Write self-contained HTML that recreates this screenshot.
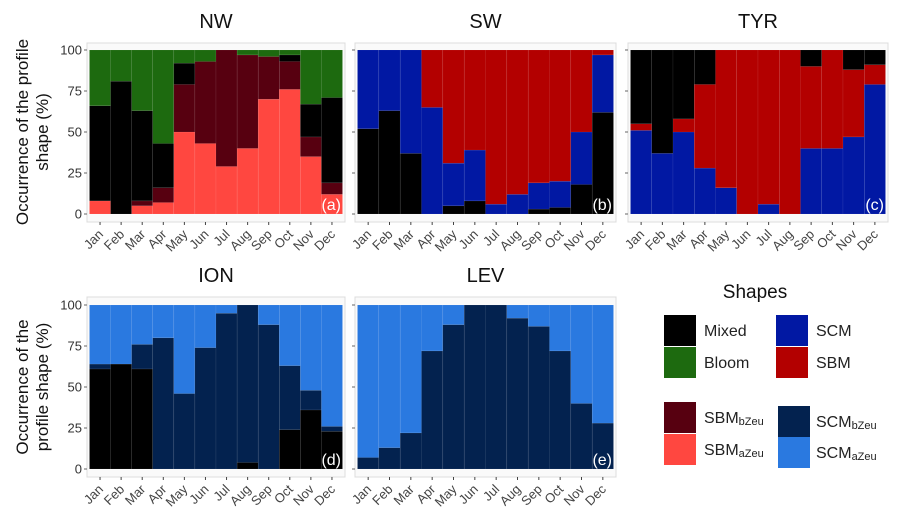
<!DOCTYPE html>
<html><head><meta charset="utf-8"><style>
body{margin:0;background:#fff;}
svg{display:block;font-family:"Liberation Sans",sans-serif;}
</style></head><body>
<svg id="chart" width="902" height="520" viewBox="0 0 902 520"></svg>
<script>
const months=["Jan","Feb","Mar","Apr","May","Jun","Jul","Aug","Sep","Oct","Nov","Dec"];
const yTicks=[0,25,50,75,100];
// NW (bottom to top)
const nwSBMaZeu=[8,0,5,7,50,43,29,40,70,76,35,12];
const nwSBMbZeu=[0,0,3,9,29,50,71,57,26,17,12,7];
const nwMixed=[58,81,55,27,13,0,0,0,0,4,20,52];
const nwBloom=[34,19,37,57,8,7,0,3,4,3,33,29];
// SW
const swMixed=[52,63,37,0,5,8,0,0,3,4,18,62];
const swSCM=[48,37,63,65,26,31,6,12,16,16,32,35];
const swSBM=[0,0,0,35,69,61,94,88,81,80,50,3];
// TYR
const tyrSCM=[51,37,50,28,16,0,6,0,40,40,47,79];
const tyrSBM=[4,0,8,51,84,100,94,100,50,60,41,12];
const tyrMixed=[45,63,42,21,0,0,0,0,10,0,12,9];
// ION
const ionMixed=[61,64,61,0,0,0,0,4,0,24,36,23];
const ionSCMbZeu=[3,0,15,80,46,74,95,96,88,39,12,3];
const ionSCMaZeu=[36,36,24,20,54,26,5,0,12,37,52,74];
// LEV
const levSCMbZeu=[7,13,22,72,88,100,100,92,87,72,40,28];
const levSCMaZeu=[93,87,78,28,12,0,0,8,13,28,60,72];

const C={Mixed:"#000000",Bloom:"#1d6a0f",SCM:"#0118a3",SBM:"#b30000",SBMb:"#570010",SBMa:"#ff4740",SCMb:"#03224f",SCMa:"#2a79e0"};
const NS="http://www.w3.org/2000/svg";
const svg=document.getElementById("chart");
function mk(tag,attrs,parent){const e=document.createElementNS(NS,tag);for(const k in attrs)e.setAttribute(k,attrs[k]);(parent||svg).appendChild(e);return e;}

const panels=[
 {name:"NW",lab:"(a)",x0:87,x1:345,top:43,bot:222,y100:50,y0:214,axis:true,series:[["SBMa",nwSBMaZeu],["SBMb",nwSBMbZeu],["Mixed",nwMixed],["Bloom",nwBloom]]},
 {name:"SW",lab:"(b)",x0:355,x1:616,top:43,bot:222,y100:50,y0:214,axis:false,series:[["Mixed",swMixed],["SCM",swSCM],["SBM",swSBM]]},
 {name:"TYR",lab:"(c)",x0:628,x1:888,top:43,bot:222,y100:50,y0:214,axis:false,series:[["SCM",tyrSCM],["SBM",tyrSBM],["Mixed",tyrMixed]]},
 {name:"ION",lab:"(d)",x0:87,x1:345,top:297,bot:477,y100:305,y0:469,axis:true,series:[["Mixed",ionMixed],["SCMb",ionSCMbZeu],["SCMa",ionSCMaZeu]]},
 {name:"LEV",lab:"(e)",x0:355,x1:616,top:297,bot:477,y100:305,y0:469,axis:false,series:[["SCMb",levSCMbZeu],["SCMa",levSCMaZeu]]}
];

panels.forEach(p=>{
  const g=mk("g",{});
  
  
  mk("rect",{x:p.x0,y:p.top,width:p.x1-p.x0,height:p.bot-p.top,fill:"#fafafa",stroke:"#dddddd","stroke-width":1},g);
  const bx0=p.x0+2.5,bx1=p.x1-2.5,bw=(bx1-bx0)/months.length;
  const yS=v=>p.y0-(p.y0-p.y100)*v/100;
  const xS=i=>bx0+i*bw;
  months.forEach((m,i)=>{
    let cum=0;
    p.series.forEach(([key,arr])=>{
      const v=arr[i]; if(v<=0){return;}
      const r=mk("rect",{x:xS(i),y:yS(cum+v),width:bw,height:yS(cum)-yS(cum+v),fill:C[key],stroke:"rgba(255,255,255,0.12)","stroke-width":0.5},g);
      
      
      cum+=v;
    });
    const cx=xS(i)+bw/2;
    mk("line",{x1:cx,x2:cx,y1:p.bot,y2:p.bot+3,stroke:"#444","stroke-width":1},g);
    const t=mk("text",{x:cx+4,y:p.bot+13,"text-anchor":"end","font-size":13,fill:"#444",transform:`rotate(-45 ${cx+4} ${p.bot+13})`},g);
    t.textContent=m;
    
    
  });
  yTicks.forEach(v=>{
    mk("line",{x1:p.x0-3,x2:p.x0,y1:yS(v),y2:yS(v),stroke:"#666","stroke-width":1},g);
    if(p.axis){
      const t=mk("text",{x:p.x0-5,y:yS(v)+4.5,"text-anchor":"end","font-size":13,fill:"#333"},g);
      t.textContent=v;
      
      
    }
  });
  const tt=mk("text",{x:(p.x0+p.x1)/2,y:p.top-15,"text-anchor":"middle","font-size":20,fill:"#111"},g);
  tt.textContent=p.name;
  
  
  const pl=mk("text",{x:p.x1-4,y:p.y0-4,"text-anchor":"end","font-size":16,fill:"#fff"},g);
  pl.textContent=p.lab;
  
  
});

function ytitle(lines,cy){
  const t=mk("text",{x:0,y:0,"text-anchor":"middle","font-size":17,fill:"#111",transform:`translate(30 ${cy}) rotate(-90)`});
  
  
  lines.forEach((l,i)=>{const s=mk("tspan",{x:0,dy:i===0?-2:20},t);s.textContent=l;});
}
ytitle(["Occurrence of the profile","shape (%)"],132);
ytitle(["Occurrence of the","profile shape (%)"],387);

// legend
const lg=mk("g",{});


const lt=mk("text",{x:755,y:298,"text-anchor":"middle","font-size":19,fill:"#111"},lg);
lt.textContent="Shapes";
const entries=[
 ["Mixed","Mixed","",664,315,704],["Bloom","Bloom","",664,347,704],
 ["SCM","SCM","",776,315,816],["SBM","SBM","",776,347,816],
 ["SBMb","SBM","bZeu",664,402,704],["SBMa","SBM","aZeu",664,434,704],
 ["SCMb","SCM","bZeu",778,406,816],["SCMa","SCM","aZeu",778,437,816]
];
entries.forEach(([k,main,sub,x,y,tx])=>{
  const e=mk("g",{},lg);
  
  
  mk("rect",{x:x,y:y,width:32,height:31,fill:C[k]},e);
  const t=mk("text",{x:tx,y:y+21,"font-size":16,fill:"#222"},e);
  t.appendChild(document.createTextNode(main));
  if(sub){const s=mk("tspan",{"font-size":11,dy:2},t);s.textContent=sub;}
});
</script>
</body></html>
